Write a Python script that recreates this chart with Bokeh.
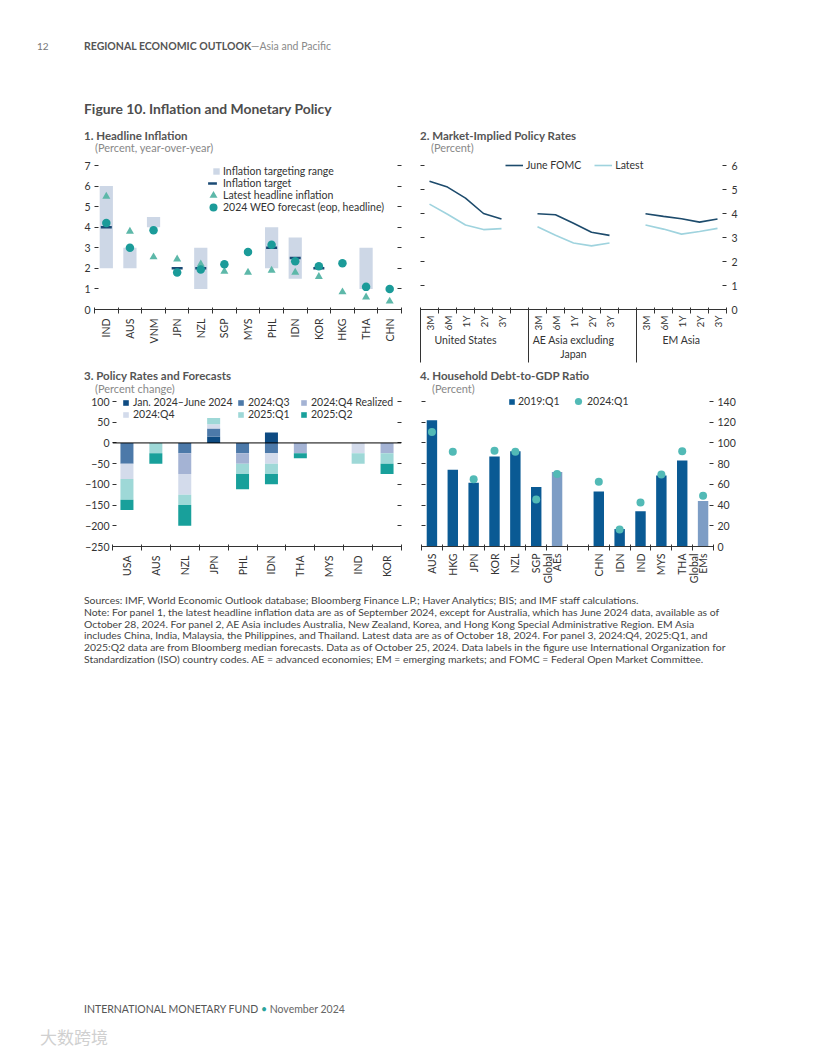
import math
import numpy as np
from bokeh.plotting import figure
from bokeh.models import Range1d, FixedTicker, LinearAxis, Legend, LegendItem, Div, Span
from bokeh.layouts import column, row
from bokeh.embed import file_html
from bokeh.resources import INLINE

FONT = "Lato"
TXT = "#333333"
NAN = float("nan")
TICK_FS = "10.5px"
LEG_FS = "10.5px"
TEXT_H = 12.6

# ---------------- Panel 1: Headline inflation ----------------
p1_countries = ["IND", "AUS", "VNM", "JPN", "NZL", "SGP", "MYS", "PHL", "IDN", "KOR", "HKG", "THA", "CHN"]
p1_range_low = [2.0, 2.0, 4.0, NAN, 1.0, NAN, NAN, 2.0, 1.5, NAN, NAN, 1.0, NAN]
p1_range_high = [6.0, 3.0, 4.5, NAN, 3.0, NAN, NAN, 4.0, 3.5, NAN, NAN, 3.0, NAN]
p1_target = [4.0, NAN, NAN, 2.0, 2.0, NAN, NAN, 3.0, 2.5, 2.0, NAN, NAN, NAN]
p1_latest = [5.5, 3.8, 2.55, 2.45, 2.2, 1.85, 1.8, 1.9, 1.8, 1.6, 0.85, 0.6, 0.4]
p1_weo = [4.2, 3.0, 3.85, 1.8, 1.95, 2.2, 2.8, 3.15, 2.35, 2.1, 2.25, 1.1, 1.0]
p1_yticks = [0, 1, 2, 3, 4, 5, 6, 7]

# ---------------- Panel 2: Market-implied policy rates ----------------
p2_groups = ["United States", "AE Asia excluding\nJapan", "EM Asia"]
p2_tenors = ["3M", "6M", "1Y", "2Y", "3Y"]
p2_june_us = [5.34, 5.10, 4.64, 4.00, 3.77]
p2_june_ae = [3.99, 3.95, 3.59, 3.22, 3.09]
p2_june_em = [3.99, 3.88, 3.78, 3.64, 3.77]
p2_latest_us = [4.39, 3.97, 3.52, 3.33, 3.37]
p2_latest_ae = [3.45, 3.09, 2.77, 2.65, 2.77]
p2_latest_em = [3.52, 3.35, 3.14, 3.25, 3.38]
p2_yticks = [0, 1, 2, 3, 4, 5, 6]

# ---------------- Panel 3: Policy rates and forecasts ----------------
p3_countries = ["USA", "AUS", "NZL", "JPN", "PHL", "IDN", "THA", "MYS", "IND", "KOR"]
p3_series = ["Jan. 2024\u2013June 2024", "2024:Q3", "2024:Q4 Realized", "2024:Q4", "2025:Q1", "2025:Q2"]
p3_janjun = [0, 0, 0, 15, 0, 25, 0, 0, 0, 0]
p3_q3 = [-50, 0, -25, 20, -25, -25, 0, 0, 0, 0]
p3_q4_realized = [0, 0, -50, 0, -25, 0, -25, 0, 0, -25]
p3_q4 = [-37, 0, -50, 10, 0, -25, 0, 0, -25, 0]
p3_q1_2025 = [-50, -25, -25, 15, -25, -25, 0, 0, -25, -25]
p3_q2_2025 = [-25, -25, -50, 0, -37, -25, -12, 0, 0, -25]
p3_yticks = [-250, -200, -150, -100, -50, 0, 50, 100]

# ---------------- Panel 4: Household debt-to-GDP ----------------
p4_ae_labels = ["AUS", "HKG", "JPN", "KOR", "NZL", "SGP", "Global\nAEs"]
p4_em_labels = ["CHN", "IDN", "IND", "MYS", "THA", "Global\nEMs"]
p4_2019_ae = [122, 74, 61.5, 87, 92, 57.5, 72]
p4_2024_ae = [110.5, 91.5, 65, 92.5, 91.5, 45.5, 70]
p4_2019_em = [53, 17, 34, 68.5, 83, 44]
p4_2024_em = [62.5, 16.5, 42.5, 69.5, 92, 49]
p4_yticks = [0, 20, 40, 60, 80, 100, 120, 140]


def padded(lo, hi, frame_px, pad_px):
    # extend the range above the top tick so the legend fits inside the frame
    return Range1d(lo, hi + (hi - lo) * pad_px / (frame_px - pad_px))


def base_fig(w, h, xr, yr, bl, br, bt, bb):
    p = figure(width=w, height=h, x_range=xr, y_range=yr, output_backend="svg", title=None,
               toolbar_location=None, min_border_left=bl, min_border_right=br,
               min_border_top=bt, min_border_bottom=bb, margin=(0, 0, 0, 0))
    p.outline_line_color = None
    p.xgrid.visible = False
    p.ygrid.visible = False
    p.border_fill_color = None
    p.background_fill_color = None
    return p


def style_y(ax, ticks, labels=True, tick_in=4, tick_out=0, standoff=4):
    ax.ticker = FixedTicker(ticks=ticks)
    ax.axis_line_color = None
    ax.major_tick_in = tick_in
    ax.major_tick_out = tick_out
    ax.major_tick_line_color = TXT
    ax.minor_tick_line_color = None
    ax.major_label_text_font = FONT
    ax.major_label_text_font_size = TICK_FS
    ax.major_label_text_color = TXT
    if labels:
        ax.major_label_standoff = standoff
    else:
        ax.major_label_overrides = {t: "" for t in ticks}
        ax.major_label_standoff = 0


def style_x(ax, centers, labels, bounds, size=TICK_FS, standoff=5, split=0.0):
    # two-line labels: the last line sits on the category, earlier lines step left
    ticks, over = [], {}
    for c, l in zip(centers, labels):
        parts = l.split("\n")
        for k, part in enumerate(parts):
            t = c + (k - (len(parts) - 1)) * split
            ticks.append(t)
            over[t] = part
    ax.ticker = FixedTicker(ticks=ticks, minor_ticks=bounds)
    ax.major_label_overrides = over
    ax.major_tick_in = 0
    ax.major_tick_out = 0
    ax.minor_tick_in = 2
    ax.minor_tick_out = 4
    ax.minor_tick_line_color = TXT
    ax.axis_line_color = TXT
    ax.major_label_orientation = math.pi / 2
    ax.major_label_standoff = standoff
    ax.major_label_text_font = FONT
    ax.major_label_text_font_size = size
    ax.major_label_text_color = TXT


def make_legend(items, loc, orientation="vertical", gw=9, gh=9, spacing=0, standoff=4):
    leg = Legend(items=items, location=loc, orientation=orientation)
    leg.label_text_font = FONT
    leg.label_text_font_size = LEG_FS
    leg.label_text_color = TXT
    leg.glyph_width = gw
    leg.glyph_height = gh
    leg.label_height = 10
    leg.spacing = spacing
    leg.padding = 0
    leg.margin = 0
    leg.label_standoff = standoff
    leg.border_line_color = None
    leg.background_fill_alpha = 0
    return leg


def single_legend(p, label, renderer, box_left, center_y, g, standoff):
    h = max(g, TEXT_H)
    leg = make_legend([LegendItem(label=label, renderers=[renderer])],
                      (box_left, center_y - h / 2), gw=g, gh=g, standoff=standoff)
    p.add_layout(leg, "center")


# ---------- Figure 1 ----------
n1 = len(p1_countries)
x1 = list(range(n1))
p1 = base_fig(406, 214, Range1d(-0.5, n1 - 0.5), padded(0, 7, 152, 8), 86, 13, 2, 60)
r_rng = p1.vbar(x=x1, bottom=p1_range_low, top=p1_range_high, width=0.56,
                fill_color="#cdd7e6", line_color=None)
r_lat = p1.scatter(x=x1, y=p1_latest, marker="triangle", size=8,
                   fill_color="#5db8a9", line_color=None)
r_tgt = p1.scatter(x=x1, y=p1_target, marker="dash", size=11,
                   line_color="#1b4b75", line_width=2.5)
r_weo = p1.scatter(x=x1, y=p1_weo, marker="circle", size=8.5,
                   fill_color="#1b9b99", line_color=None)
style_y(p1.yaxis[0], p1_yticks, True)
ax1r = LinearAxis()
p1.add_layout(ax1r, "right")
style_y(ax1r, p1_yticks, False)
style_x(p1.xaxis[0], x1, p1_countries, [i - 0.5 for i in range(n1 + 1)])
single_legend(p1, "Inflation targeting range", r_rng, 118, 138, 8, 3)
single_legend(p1, "Inflation target", r_tgt, 107, 126, 22, 0)
single_legend(p1, "Latest headline inflation", r_lat, 109, 114, 20, 0)
single_legend(p1, "2024 WEO forecast (eop, headline)", r_weo, 109, 102, 20, 0)

# ---------- Figure 2 ----------
slot = len(p2_tenors) + 1
p2_june = [p2_june_us, p2_june_ae, p2_june_em]
p2_latest = [p2_latest_us, p2_latest_ae, p2_latest_em]
xs2, yj, yl = [], [], []
centers2, labels2 = [], []
for g in range(len(p2_groups)):
    for i, t in enumerate(p2_tenors):
        xs2.append(g * slot + i)
        yj.append(p2_june[g][i])
        yl.append(p2_latest[g][i])
        centers2.append(g * slot + i)
        labels2.append(t)
    xs2.append(NAN); yj.append(NAN); yl.append(NAN)
xmax2 = (len(p2_groups) - 1) * slot + len(p2_tenors) - 0.5
p2 = base_fig(330, 214, Range1d(-0.5, xmax2), padded(0, 6, 152, 8), 6, 18, 2, 60)
r_j = p2.line(x=xs2, y=yj, line_color="#1d4b6c", line_width=1.6)
r_l = p2.line(x=xs2, y=yl, line_color="#9fd3de", line_width=1.6)
p2.yaxis.visible = False
ax2l = LinearAxis()
p2.add_layout(ax2l, "left")
style_y(ax2l, p2_yticks, False)
ax2r = LinearAxis()
p2.add_layout(ax2r, "right")
style_y(ax2r, p2_yticks, True, standoff=5)
bounds2 = [b - 0.5 for b in range(int(xmax2 + 0.5) + 1)]
style_x(p2.xaxis[0], centers2, labels2, bounds2, size="10px", standoff=2)
gcent = [g * slot + (len(p2_tenors) - 1) / 2 for g in range(len(p2_groups))]
gsep = [g * slot - 0.5 for g in range(len(p2_groups))]
# group labels
ax2g = LinearAxis(ticker=FixedTicker(ticks=gcent, minor_ticks=[]))
ax2g.major_label_overrides = {c: l for c, l in zip(gcent, p2_groups)}
ax2g.axis_line_color = None
ax2g.major_tick_in = 0
ax2g.major_tick_out = 0
ax2g.major_tick_line_color = None
ax2g.minor_tick_line_color = None
ax2g.major_label_standoff = 0
ax2g.major_label_text_font = FONT
ax2g.major_label_text_font_size = TICK_FS
ax2g.major_label_text_color = TXT
p2.add_layout(ax2g, "below")
# group separators
ax2s = LinearAxis(ticker=FixedTicker(ticks=gcent, minor_ticks=gsep))
ax2s.major_label_overrides = {c: "" for c in gcent}
ax2s.axis_line_color = None
ax2s.major_tick_in = 0
ax2s.major_tick_out = 0
ax2s.major_tick_line_color = None
ax2s.major_label_standoff = 0
ax2s.minor_tick_in = 50
ax2s.minor_tick_out = 0
ax2s.minor_tick_line_color = TXT
p2.add_layout(ax2s, "below")
leg2 = make_legend([LegendItem(label="June FOMC", renderers=[r_j]),
                    LegendItem(label="Latest", renderers=[r_l])],
                   (85, 138), orientation="horizontal", gw=18, gh=8, spacing=13, standoff=3)
p2.add_layout(leg2, "center")

# ---------- Figure 3 ----------
n3 = len(p3_countries)
x3 = np.arange(n3)
p3 = base_fig(406, 192, Range1d(-0.5, n3 - 0.5), padded(-250, 100, 152, 7), 104, 13, 0, 40)
p3_colors = ["#0e4b82", "#4c79a9", "#a4b3d4", "#d3dbeb", "#9ed8d7", "#18a09b"]
p3_values = [p3_janjun, p3_q3, p3_q4_realized, p3_q4, p3_q1_2025, p3_q2_2025]
pos_base = np.zeros(n3)
neg_base = np.zeros(n3)
items3 = []
for vals, col, lab in zip(p3_values, p3_colors, p3_series):
    v = np.array(vals, dtype=float)
    bottom = np.where(v >= 0, pos_base, neg_base + v)
    top = np.where(v >= 0, pos_base + v, neg_base)
    pos_base = pos_base + np.clip(v, 0, None)
    neg_base = neg_base + np.clip(v, None, 0)
    r = p3.vbar(x=x3, bottom=bottom, top=top, width=0.45, fill_color=col, line_color=None)
    items3.append(LegendItem(label=lab, renderers=[r]))
p3.add_layout(Span(location=0, dimension="width", line_color="#000000", line_width=1))
style_y(p3.yaxis[0], p3_yticks, True, standoff=3)
ax3r = LinearAxis()
p3.add_layout(ax3r, "right")
style_y(ax3r, p3_yticks, False)
style_x(p3.xaxis[0], list(range(n3)), p3_countries, [i - 0.5 for i in range(n3 + 1)])
# legend in three columns, two rows
for k, xloc in enumerate([10, 125, 188]):
    leg = make_legend(items3[k::3], (xloc, 126), gw=7, gh=7, spacing=0, standoff=4)
    p3.add_layout(leg, "center")

# ---------- Figure 4 ----------
x4_ae = list(range(len(p4_ae_labels)))
x4_em = [len(p4_ae_labels) + 1 + i for i in range(len(p4_em_labels))]
x4 = x4_ae + x4_em
lab4 = p4_ae_labels + p4_em_labels
v19 = p4_2019_ae + p4_2019_em
v24 = p4_2024_ae + p4_2024_em
bar_cols = ["#7d9dc5" if l.startswith("Global") else "#0a5a94" for l in lab4]
n4 = len(x4_ae) + 1 + len(x4_em)
p4 = base_fig(330, 192, Range1d(-0.5, n4 - 0.5), padded(0, 140, 152, 7), 7, 31, 0, 40)
r19 = p4.vbar(x=x4, top=v19, width=0.5, fill_color=bar_cols, line_color=None)
r24 = p4.scatter(x=x4, y=v24, marker="circle", size=8, fill_color="#52bab6", line_color=None)
p4.yaxis.visible = False
ax4l = LinearAxis()
p4.add_layout(ax4l, "left")
style_y(ax4l, p4_yticks, False)
ax4r = LinearAxis()
p4.add_layout(ax4r, "right")
style_y(ax4r, p4_yticks, True, standoff=4)
style_x(p4.xaxis[0], x4, lab4, [i - 0.5 for i in range(n4 + 1)], standoff=3, split=0.43)
single_legend(p4, "2019:Q1", r19, 87, 145, 7, 3)
single_legend(p4, "2024:Q1", r24, 148, 145, 18, 0)


# ---------- Text blocks ----------
def txt(left, top, size, color, s, weight=400, extra=""):
    return (f'<div style="position:absolute;left:{left}px;top:{top}px;font-family:Lato,sans-serif;'
            f'font-size:{size}px;line-height:{size + 1}px;color:{color};font-weight:{weight};'
            f'white-space:nowrap;{extra}">{s}</div>')


def box(w, h, inner):
    return f'<div style="position:relative;width:{w}px;height:{h}px;overflow:visible;">{inner}</div>'


header = Div(width=800, height=120, margin=(0, 0, 0, 0), text=box(800, 120,
    txt(29, 33, 10, "#777777", "12")
    + txt(76, 33, 10.5, "#555555", '<b>REGIONAL ECONOMIC OUTLOOK</b><span style="font-weight:400;color:#8a8a8a">\u2014Asia and Pacific</span>')
    + txt(76, 94, 13.9, "#4d4d4d", "Figure 10. Inflation and Monetary Policy", weight=700)))

titles1 = Div(width=800, height=27, margin=(0, 0, 0, 0), text=box(800, 27,
    txt(76, 2, 11.5, "#555555", "1. Headline Inflation", weight=700)
    + txt(87, 14, 11, "#888888", "(Percent, year-over-year)")
    + txt(412, 2, 11.5, "#555555", "2. Market-Implied Policy Rates", weight=700)
    + txt(423, 14, 11, "#888888", "(Percent)")))

titles2 = Div(width=800, height=25, margin=(0, 0, 0, 0), text=box(800, 25,
    txt(76, 1, 11.5, "#555555", "3. Policy Rates and Forecasts", weight=700)
    + txt(87, 14, 11, "#888888", "(Percent change)")
    + txt(412, 1, 11.5, "#555555", "4. Household Debt-to-GDP Ratio", weight=700)
    + txt(424, 14, 11, "#888888", "(Percent)")))

note_lines = [
    "Sources: IMF, World Economic Outlook database; Bloomberg Finance L.P.; Haver Analytics; BIS; and IMF staff calculations.",
    "Note: For panel 1, the latest headline inflation data are as of September 2024, except for Australia, which has June 2024 data, available as of",
    "October 28, 2024. For panel 2, AE Asia includes Australia, New Zealand, Korea, and Hong Kong Special Administrative Region. EM Asia",
    "includes China, India, Malaysia, the Philippines, and Thailand. Latest data are as of October 18, 2024. For panel 3, 2024:Q4, 2025:Q1, and",
    "2025:Q2 data are from Bloomberg median forecasts. Data as of October 25, 2024. Data labels in the figure use International Organization for",
    "Standardization (ISO) country codes. AE = advanced economies; EM = emerging markets; and FOMC = Federal Open Market Committee.",
]
notes_html = ('<div style="position:absolute;left:76px;top:9px;font-family:Lato,sans-serif;font-size:10.4px;'
              'line-height:11.8px;color:#444444;white-space:nowrap;">' + "<br>".join(note_lines) + "</div>")
footer_html = txt(76, 418, 10.5, "#555555",
                  'INTERNATIONAL MONETARY FUND <span style="color:#2aa39b">\u2022</span> <span style="color:#666666">November 2024</span>')
mark_html = txt(32, 442, 17, "#d0d0d0", "\u5927\u6570\u8de8\u5883", extra="font-family:'Noto Sans CJK SC';")
bottom = Div(width=800, height=462, margin=(0, 0, 0, 0), text=box(800, 462, notes_html + footer_html + mark_html))

layout = column(header, titles1, row(p1, p2), titles2, row(p3, p4), bottom, margin=(8, 8, 8, 8))
open("out.html", "w", encoding="utf-8").write(file_html(layout, INLINE))
